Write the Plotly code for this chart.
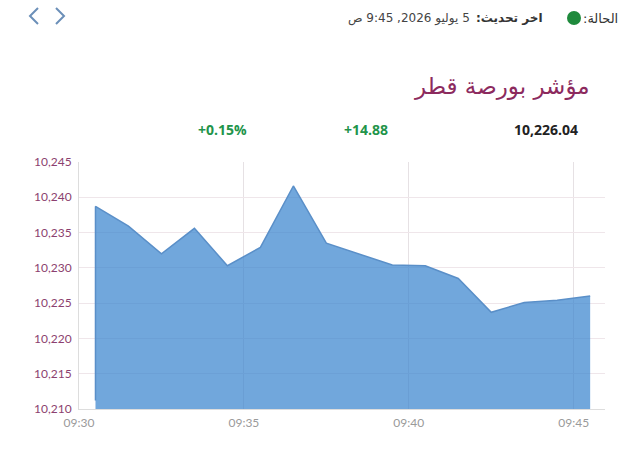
import plotly.graph_objects as go

# ---- data ----
times = ["2026-07-05 09:30:30", "2026-07-05 09:30:30", "2026-07-05 09:31:30", "2026-07-05 09:32:30",
         "2026-07-05 09:33:30", "2026-07-05 09:34:30", "2026-07-05 09:35:30", "2026-07-05 09:36:30",
         "2026-07-05 09:37:30", "2026-07-05 09:38:30", "2026-07-05 09:39:30", "2026-07-05 09:40:30",
         "2026-07-05 09:41:30", "2026-07-05 09:42:30", "2026-07-05 09:43:30", "2026-07-05 09:44:30",
         "2026-07-05 09:45:30"]
values = [10211.2, 10238.7, 10235.9, 10232.0, 10235.6, 10230.3, 10232.9, 10241.6,
          10233.5, 10232.0, 10230.4, 10230.3, 10228.5, 10223.7, 10225.1, 10225.4, 10226.0]

title_text = "مؤشر بورصة قطر"
last_value = "10,226.04"
change_abs = "+14.88"
change_pct = "+0.15%"
status_label = "الحالة:"
update_label = "اخر تحديث:"
update_time = "5 يوليو 2026, 9:45 ص"

y_range = [10210, 10245]
x_range = ["2026-07-05 09:30:00", "2026-07-05 09:45:57"]

# ---- geometry helpers (pixel -> paper) ----
W, H = 640, 463
L, R, T, B = 79, 35, 162, 54
PW, PH = W - L - R, H - T - B


def px(x):
    return (x - L) / PW


def py(y):
    return (H - B - y) / PH


fig = go.Figure()
fig.add_trace(go.Scatter(
    x=times, y=values, mode="lines", fill="tozeroy",
    line=dict(color="#5a8fc8", width=1.5),
    fillcolor="rgba(52,130,205,0.7)",
    hoverinfo="skip", showlegend=False,
))

green = "#22944a"
ann = []
ann.append(dict(text=title_text, x=px(592), y=py(86), xanchor="right", yanchor="middle",
                font=dict(size=23, color="#8c2a5e", family="DejaVu Sans")))
ann.append(dict(text="<b>%s</b>" % last_value, x=px(580), y=py(129), xanchor="right", yanchor="middle",
                font=dict(size=14, color="#222222", family="Open Sans")))
ann.append(dict(text="<b>%s</b>" % change_abs, x=px(366), y=py(129), xanchor="center", yanchor="middle",
                font=dict(size=14, color=green, family="Open Sans")))
ann.append(dict(text="<b>%s</b>" % change_pct, x=px(222), y=py(129), xanchor="center", yanchor="middle",
                font=dict(size=14, color=green, family="Open Sans")))
ann.append(dict(text="\u202b" + status_label + "\u202c", x=px(620), y=py(18), xanchor="right", yanchor="middle",
                font=dict(size=13, color="#333333", family="DejaVu Sans")))
ann.append(dict(text="<b>\u202b" + update_label + "\u202c</b>", x=px(545), y=py(18), xanchor="right", yanchor="middle",
                font=dict(size=12, color="#333333", family="DejaVu Sans")))
ann.append(dict(text="\u202b" + update_time + "\u202c", x=px(472), y=py(18), xanchor="right", yanchor="middle",
                font=dict(size=12, color="#444444", family="DejaVu Sans")))
for a in ann:
    a.update(xref="paper", yref="paper", showarrow=False)

shapes = [
    dict(type="circle", xref="paper", yref="paper", x0=px(567), x1=px(581), y0=py(25), y1=py(11),
         fillcolor="#1f8a3c", line=dict(width=0)),
    dict(type="path", xref="paper", yref="paper",
         path="M %f %f L %f %f L %f %f" % (px(38), py(8), px(30), py(16), px(38), py(24)),
         line=dict(color="#6b8fb8", width=2)),
    dict(type="path", xref="paper", yref="paper",
         path="M %f %f L %f %f L %f %f" % (px(56), py(8), px(64), py(16), px(56), py(24)),
         line=dict(color="#6b8fb8", width=2)),
]

fig.update_layout(
    width=W, height=H,
    margin=dict(l=L, r=R, t=T, b=B),
    paper_bgcolor="white", plot_bgcolor="white",
    annotations=ann, shapes=shapes,
    xaxis=dict(type="date", range=x_range, tick0="2026-07-05 09:30:00", dtick=300000,
               tickformat="%H:%M", showgrid=True, gridcolor="#e6e1e4", gridwidth=1,
               showline=True, linecolor="#dddddd", zeroline=False, ticks="",
               ticklabelstandoff=3,
               tickfont=dict(family="Lato", size=12, color="#9a9a9a"), fixedrange=True),
    yaxis=dict(range=y_range, dtick=5, tickformat=",d", showgrid=True, gridcolor="#efe6ea",
               gridwidth=1, showline=True, linecolor="#dddddd", zeroline=False, ticks="",
               ticklabelstandoff=4,
               tickfont=dict(family="Lato", size=12, color="#8c3f6f"), fixedrange=True),
)

fig.write_html("out.html")
